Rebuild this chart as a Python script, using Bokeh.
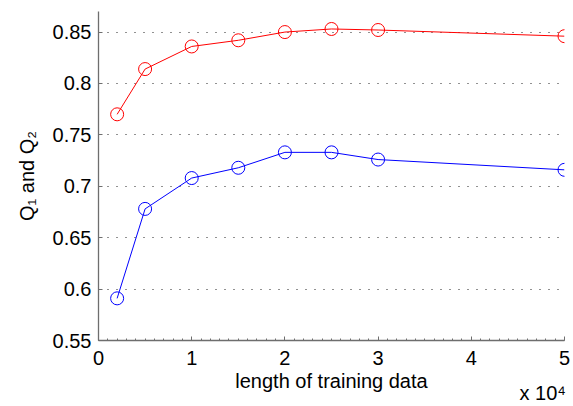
from bokeh.plotting import figure
from bokeh.models import Range1d, FixedTicker
from bokeh.embed import file_html
from bokeh.resources import INLINE

# data (x in units of 10^4)
x_vals = [0.2, 0.5, 1.0, 1.5, 2.0, 2.5, 3.0, 5.0]
q1_red = [0.770, 0.814, 0.836, 0.842, 0.850, 0.853, 0.852, 0.846]
q2_blue = [0.591, 0.678, 0.708, 0.718, 0.733, 0.733, 0.726, 0.716]
x_ticks = [0, 1, 2, 3, 4, 5]
y_ticks = [0.55, 0.6, 0.65, 0.7, 0.75, 0.8, 0.85]
y_tick_labels = {0.55: "0.55", 0.6: "0.6", 0.65: "0.65", 0.7: "0.7",
                 0.75: "0.75", 0.8: "0.8", 0.85: "0.85"}
x_label = "length of training data"
x_exponent = "x 10\u2074"

FONT = "Liberation Sans"
X0, X1, Y0, Y1 = 0, 5, 0.55, 0.87
NB = "\u00a0"

p = figure(width=571, height=406, output_backend="svg", toolbar_location=None,
           x_range=Range1d(X0, X1), y_range=Range1d(Y0, Y1),
           min_border_left=98, min_border_right=7, min_border_top=11,
           min_border_bottom=62)
p.outline_line_color = None
p.background_fill_color = "white"
p.border_fill_color = "white"

p.xgrid.grid_line_color = None
p.ygrid.grid_line_color = "#222222"
p.ygrid.grid_line_dash = "1 8"
p.ygrid.grid_line_width = 1

p.xaxis.ticker = FixedTicker(ticks=x_ticks,
                             minor_ticks=[i / 10 for i in range(0, 51)])
p.yaxis.ticker = FixedTicker(ticks=y_ticks)
p.yaxis.major_label_overrides = y_tick_labels

for ax in (p.xaxis, p.yaxis):
    ax.axis_line_color = "#6e6e6e"
    ax.axis_line_width = 1.3
    ax.major_tick_line_color = "#6e6e6e"
    ax.minor_tick_line_color = "#6e6e6e"
    ax.major_tick_in = 4
    ax.major_tick_out = 0
    ax.major_label_text_font = FONT
    ax.major_label_text_font_size = "20px"
    ax.major_label_text_color = "black"
    ax.axis_label_text_font = FONT
    ax.axis_label_text_font_size = "20px"
    ax.axis_label_text_font_style = "normal"
    ax.axis_label_text_color = "black"

p.xaxis.minor_tick_in = 2
p.xaxis.minor_tick_out = 0
p.yaxis.minor_tick_line_color = None
p.xaxis.major_label_standoff = 10
p.yaxis.major_label_standoff = 7

# two-line x label: centred label, then the exponent note at the right end
# (lines padded with non-breaking spaces to equal width)
p.xaxis.axis_label = (NB * 25 + x_label + NB * 25 + "\n" + NB * 76 + x_exponent)
p.xaxis.axis_label_text_line_height = 0.55
p.xaxis.axis_label_standoff = 2

p.yaxis.axis_label = "Q\u2081 and Q\u2082"
p.yaxis.axis_label_standoff = 12

p.line(x_vals, q1_red, line_color="#ff0000", line_width=1)
p.scatter(x_vals, q1_red, marker="circle", size=13, fill_color=None,
          line_color="#ff0000", line_width=1)
p.line(x_vals, q2_blue, line_color="#0000ff", line_width=1)
p.scatter(x_vals, q2_blue, marker="circle", size=13, fill_color=None,
          line_color="#0000ff", line_width=1)

open("out.html", "w").write(file_html(p, INLINE))
